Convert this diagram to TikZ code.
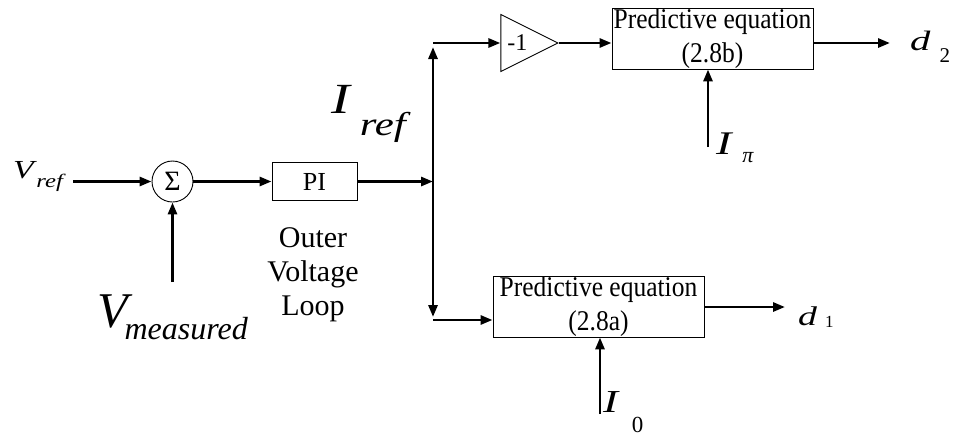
\documentclass[tikz,border=0pt]{standalone}
\usepackage{fontspec}
\setmainfont{Liberation Serif}
\usetikzlibrary{arrows.meta,shapes.geometric}
\newcommand{\fsz}[1]{\fontsize{#1}{#1}\selectfont}
\newcommand{\hstretch}[2]{\scalebox{#1}[1]{#2}}
\newcommand{\predtxt}[1]{\scalebox{1}[1.12]{Predictive equation}\\\scalebox{1}[1.12]{#1}}

\begin{document}
\begin{tikzpicture}[x=1pt,y=-1pt,
  sigline/.style={line width=2.8pt,-{Triangle[length=12pt,width=9pt]}},
  blk/.style={draw,line width=0.9pt,inner sep=0pt},
  predbox/.style={blk,align=center,minimum height=61pt,font=\fontsize{25.5}{34}\selectfont},
  lbl/.style={inner sep=0pt,anchor=base west}]
  \useasboundingbox (0,0) rectangle (954,440);
  % outer voltage loop
  \node[lbl] (vref) at (13,178) {\hstretch{1.3}{\fsz{26}\textit{V}\hspace{-0.5pt}\raisebox{-9pt}{\fsz{19}\textit{ref}}}};
  \coordinate (vin) at (73,181.5);
  \node[blk,circle,minimum size=41pt] (sum) at (172.5,181.5) {\fsz{28}Σ};
  \node[lbl] (vmeas) at (97,327) {\fsz{50}\textit{V}\hspace{-8pt}\raisebox{-12pt}{\fsz{32}\textit{measured}}};
  \coordinate (vmin) at (172.5,282);
  \node[blk,minimum width=85pt,minimum height=38pt] (pi) at (314.5,181.5) {\fsz{26}PI};
  \node[inner sep=0pt,anchor=north,align=center,font=\fontsize{30}{34}\selectfont] (loop) at (313,227) {Outer\\Voltage\\Loop};
  \draw[sigline] (vin) -- (sum);
  \draw[sigline] (vmin) -- (sum);
  \draw[sigline] (sum) -- (pi);
  % split point
  \coordinate (split) at (433,181.5);
  \coordinate (uptip) at (433,47);
  \coordinate (dntip) at (433,317);
  \coordinate (uprow) at (433,43);
  \coordinate (dnrow) at (433,320);
  \draw[sigline] (pi) -- (split);
  \draw[sigline] (split) -- (uptip);
  \draw[sigline] (split) -- (dntip);
  \node[lbl] (iref) at (331,113) {\hstretch{1.3}{\fsz{43}\textit{I}\hspace{6pt}\raisebox{-22pt}{\fsz{33}\textit{ref}}}};
  % upper branch
  \node[blk,isosceles triangle,isosceles triangle stretches,minimum width=57pt,minimum height=57pt,anchor=apex] (gain) at (559,43) {\fsz{24}-1};
  \draw[sigline] (uprow) -- (uprow -| gain.west);
  \node[predbox,minimum width=201pt] (pe2) at (712.5,38.5) {\predtxt{(2.8b)}};
  \draw[sigline] (gain.apex) -- (gain.apex -| pe2.west);
  \coordinate (d2end) at (890,43);
  \draw[sigline] (pe2.east |- d2end) -- (d2end);
  \node[lbl] (d2) at (910,50) {\hstretch{1.45}{\fsz{28}\textit{d}}\hspace{9pt}\raisebox{-12pt}{\fsz{21}2}};
  \coordinate (ipin) at (708,147);
  \draw[sigline] (ipin) -- (ipin |- pe2.south);
  \node[lbl] (ipi) at (716,154) {\hstretch{1.4}{\fsz{33}\textit{I}}\hspace{9pt}\raisebox{-8pt}{\fsz{22}\textit{π}}};
  % lower branch
  \node[predbox,minimum width=211pt] (pe1) at (598.5,306.5) {\predtxt{(2.8a)}};
  \draw[sigline] (dnrow) -- (dnrow -| pe1.west);
  \coordinate (d1end) at (785,307);
  \draw[sigline] (pe1.east |- d1end) -- (d1end);
  \node[lbl] (d1) at (798,325) {\hstretch{1.4}{\fsz{27}\textit{d}}\hspace{8pt}\raisebox{-2pt}{\fsz{17}1}};
  \coordinate (i0in) at (600,414);
  \draw[sigline] (i0in) -- (i0in |- pe1.south);
  \node[lbl] (i0) at (603,412) {\hstretch{1.4}{\fsz{32}\textit{I}}\hspace{12pt}\raisebox{-20pt}{\fsz{23}0}};
\end{tikzpicture}
\end{document}
